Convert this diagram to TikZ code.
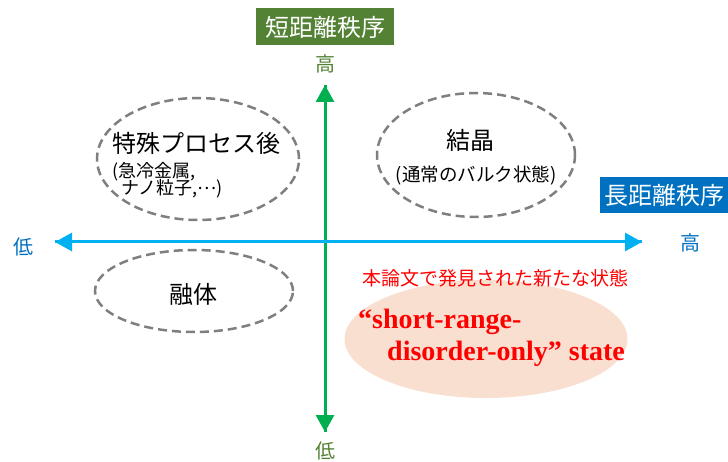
\documentclass[tikz,border=0pt]{standalone}
\usepackage{fontspec}
\setmainfont{Liberation Serif}
\newfontfamily\jp{Noto Sans CJK JP}
\usetikzlibrary{arrows.meta,shapes.geometric}
\definecolor{boxgreen}{HTML}{548235}
\definecolor{axgreen}{HTML}{00B050}
\definecolor{axblue}{HTML}{00B0F0}
\definecolor{boxblue}{HTML}{0070C0}
\definecolor{dashgray}{HTML}{7F7F7F}
\definecolor{pinkfill}{HTML}{F9DFD0}
\definecolor{redtxt}{HTML}{FF0000}
\tikzset{
  fs/.style={font=\jp\fontsize{#1}{#1}\selectfont},
  dashell/.style={ellipse, draw=dashgray, line width=2.5pt, dash pattern=on 9pt off 5pt, inner sep=0pt},
  axarrow/.style={line width=3pt, -{Triangle[length=17pt,width=18pt]}},
  titlebox/.style={fs=24, text=white, inner sep=0pt, minimum height=37pt},
  lbl/.style={fs=20, inner sep=0pt},
}
\begin{document}
\begin{tikzpicture}[x=1pt,y=-1pt]
\useasboundingbox (0,0) rectangle (728,462);
% pink ellipse
\node[ellipse, fill=pinkfill, minimum width=283pt, minimum height=118pt, inner sep=0pt] (pink) at (486,339) {};
% axes
\coordinate (vtop) at (325,85);
\coordinate (vbot) at (325,432);
\coordinate (hleft) at (55,242);
\coordinate (hright) at (642,242);
\draw[axarrow, axgreen] (vbot) -- (vtop);
\draw[axarrow, axgreen] (vtop) -- (vbot);
\draw[axarrow, axblue] (hright) -- (hleft);
\draw[axarrow, axblue] (hleft) -- (hright);
% title boxes
\node[titlebox, fill=boxgreen, minimum width=138pt] (sro) at (325,27) {短距離秩序};
\node[titlebox, fill=boxblue, minimum width=128pt, minimum height=36pt] (lro) at (664,195) {長距離秩序};
% axis labels
\node[lbl, text=boxgreen] (vhigh) at (325,64) {高};
\node[lbl, text=boxgreen] (vlow) at (325,451) {低};
\node[lbl, text=boxblue] (hlow) at (23,247) {低};
\node[lbl, text=boxblue] (hhigh) at (690,243) {高};
% dashed ellipses
\node[dashell, minimum width=202pt, minimum height=122pt] (tl) at (198,159) {};
\node[dashell, minimum width=198pt, minimum height=124pt] (tr) at (476,155) {};
\node[dashell, minimum width=198pt, minimum height=82pt] (bl) at (194,291) {};
% texts
\node[fs=24, anchor=west, inner sep=0pt] (tlt) at (112,143) {特殊プロセス後};
\node[fs=18, anchor=west, inner sep=0pt] (tls1) at (112,172) {(急冷金属,};
\node[fs=18, anchor=west, inner sep=0pt] (tls2) at (121,189) {ナノ粒子,\raisebox{0.3em}{…})};
\node[fs=24, inner sep=0pt] (trt) at (470,140) {結晶};
\node[fs=18.5, inner sep=0pt] (trs) at (476,175) {(通常のバルク状態)};
\node[fs=24, inner sep=0pt] (blt) at (193,294) {融体};
\node[fs=19, text=redtxt, inner sep=0pt] (newst) at (495,278) {本論文で発見された新たな状態};
\node[anchor=base west, inner sep=0pt, text=redtxt, font=\bfseries\fontsize{28}{28}\selectfont] (l1) at (358,328) {“short-range-};
\node[anchor=base west, inner sep=0pt, text=redtxt, font=\bfseries\fontsize{28}{28}\selectfont] (l2) at (387,360) {disorder-only” state};
\end{tikzpicture}
\end{document}
